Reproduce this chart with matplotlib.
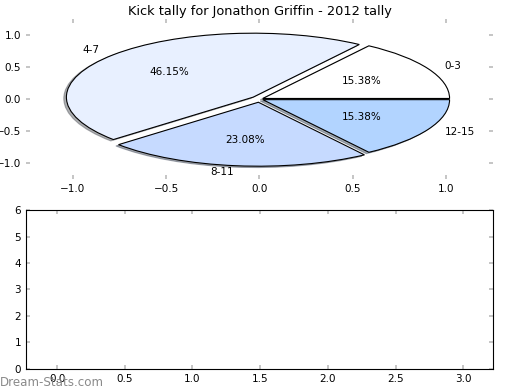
import numpy as np
import matplotlib
matplotlib.use('Agg')
import matplotlib.pyplot as plt

plt.rcParams['font.size'] = 7.5
plt.rcParams['xtick.direction'] = 'in'
plt.rcParams['ytick.direction'] = 'in'

# kick tally data
labels = ['0-3', '4-7', '8-11', '12-15']
counts = [2, 6, 3, 2]
colours = ['#ffffff', '#e8f0ff', '#c6daff', '#b2d4ff']
explode = [0.02, 0.045, 0.05, 0.02]

xticks_top = [-1.0, -0.5, 0.0, 0.5, 1.0]
yticks_top = [-1.0, -0.5, 0.0, 0.5, 1.0]
xticks_bot = [0.0, 0.5, 1.0, 1.5, 2.0, 2.5, 3.0]
yticks_bot = [0, 1, 2, 3, 4, 5, 6]

fig = plt.figure(figsize=(5.2, 3.9), dpi=100)
ax1 = fig.add_axes([0.05, 0.541, 0.898, 0.41])
ax2 = fig.add_axes([0.05, 0.054, 0.898, 0.4075])

wedges, texts, autotexts = ax1.pie(counts, labels=labels, colors=colours, explode=explode,
                                   autopct='%1.2f%%', startangle=0,
                                   shadow={'ox': -0.01, 'oy': -0.015, 'shade': 0.6},
                                   wedgeprops={'edgecolor': 'black', 'linewidth': 0.8})
ax1.set_aspect('auto')
ax1.set_frame_on(False)
ax1.set_xlim(-1.25, 1.25)
ax1.set_ylim(-1.25, 1.25)
ax1.set_xticks(xticks_top)
ax1.set_yticks(yticks_top)
ax1.tick_params(color='#bbbbbb', top=True, right=True, length=3, width=1.2)
ax1.set_title('Kick tally for Jonathon Griffin - 2012 tally', fontsize=9.3, pad=3)

ax2.set_xlim(-0.23, 3.22)
ax2.set_ylim(0, 6)
ax2.set_xticks(xticks_bot)
ax2.set_yticks(yticks_bot)
ax2.tick_params(color='#bbbbbb', top=True, right=True, length=3, width=1.2)
for s in ax2.spines.values():
    s.set_linewidth(0.8)

fig.text(0.0, 0.01, 'Dream-Stats.com', fontsize=8.6, color='#8a8a8a')

plt.savefig('out.png', dpi=100)
